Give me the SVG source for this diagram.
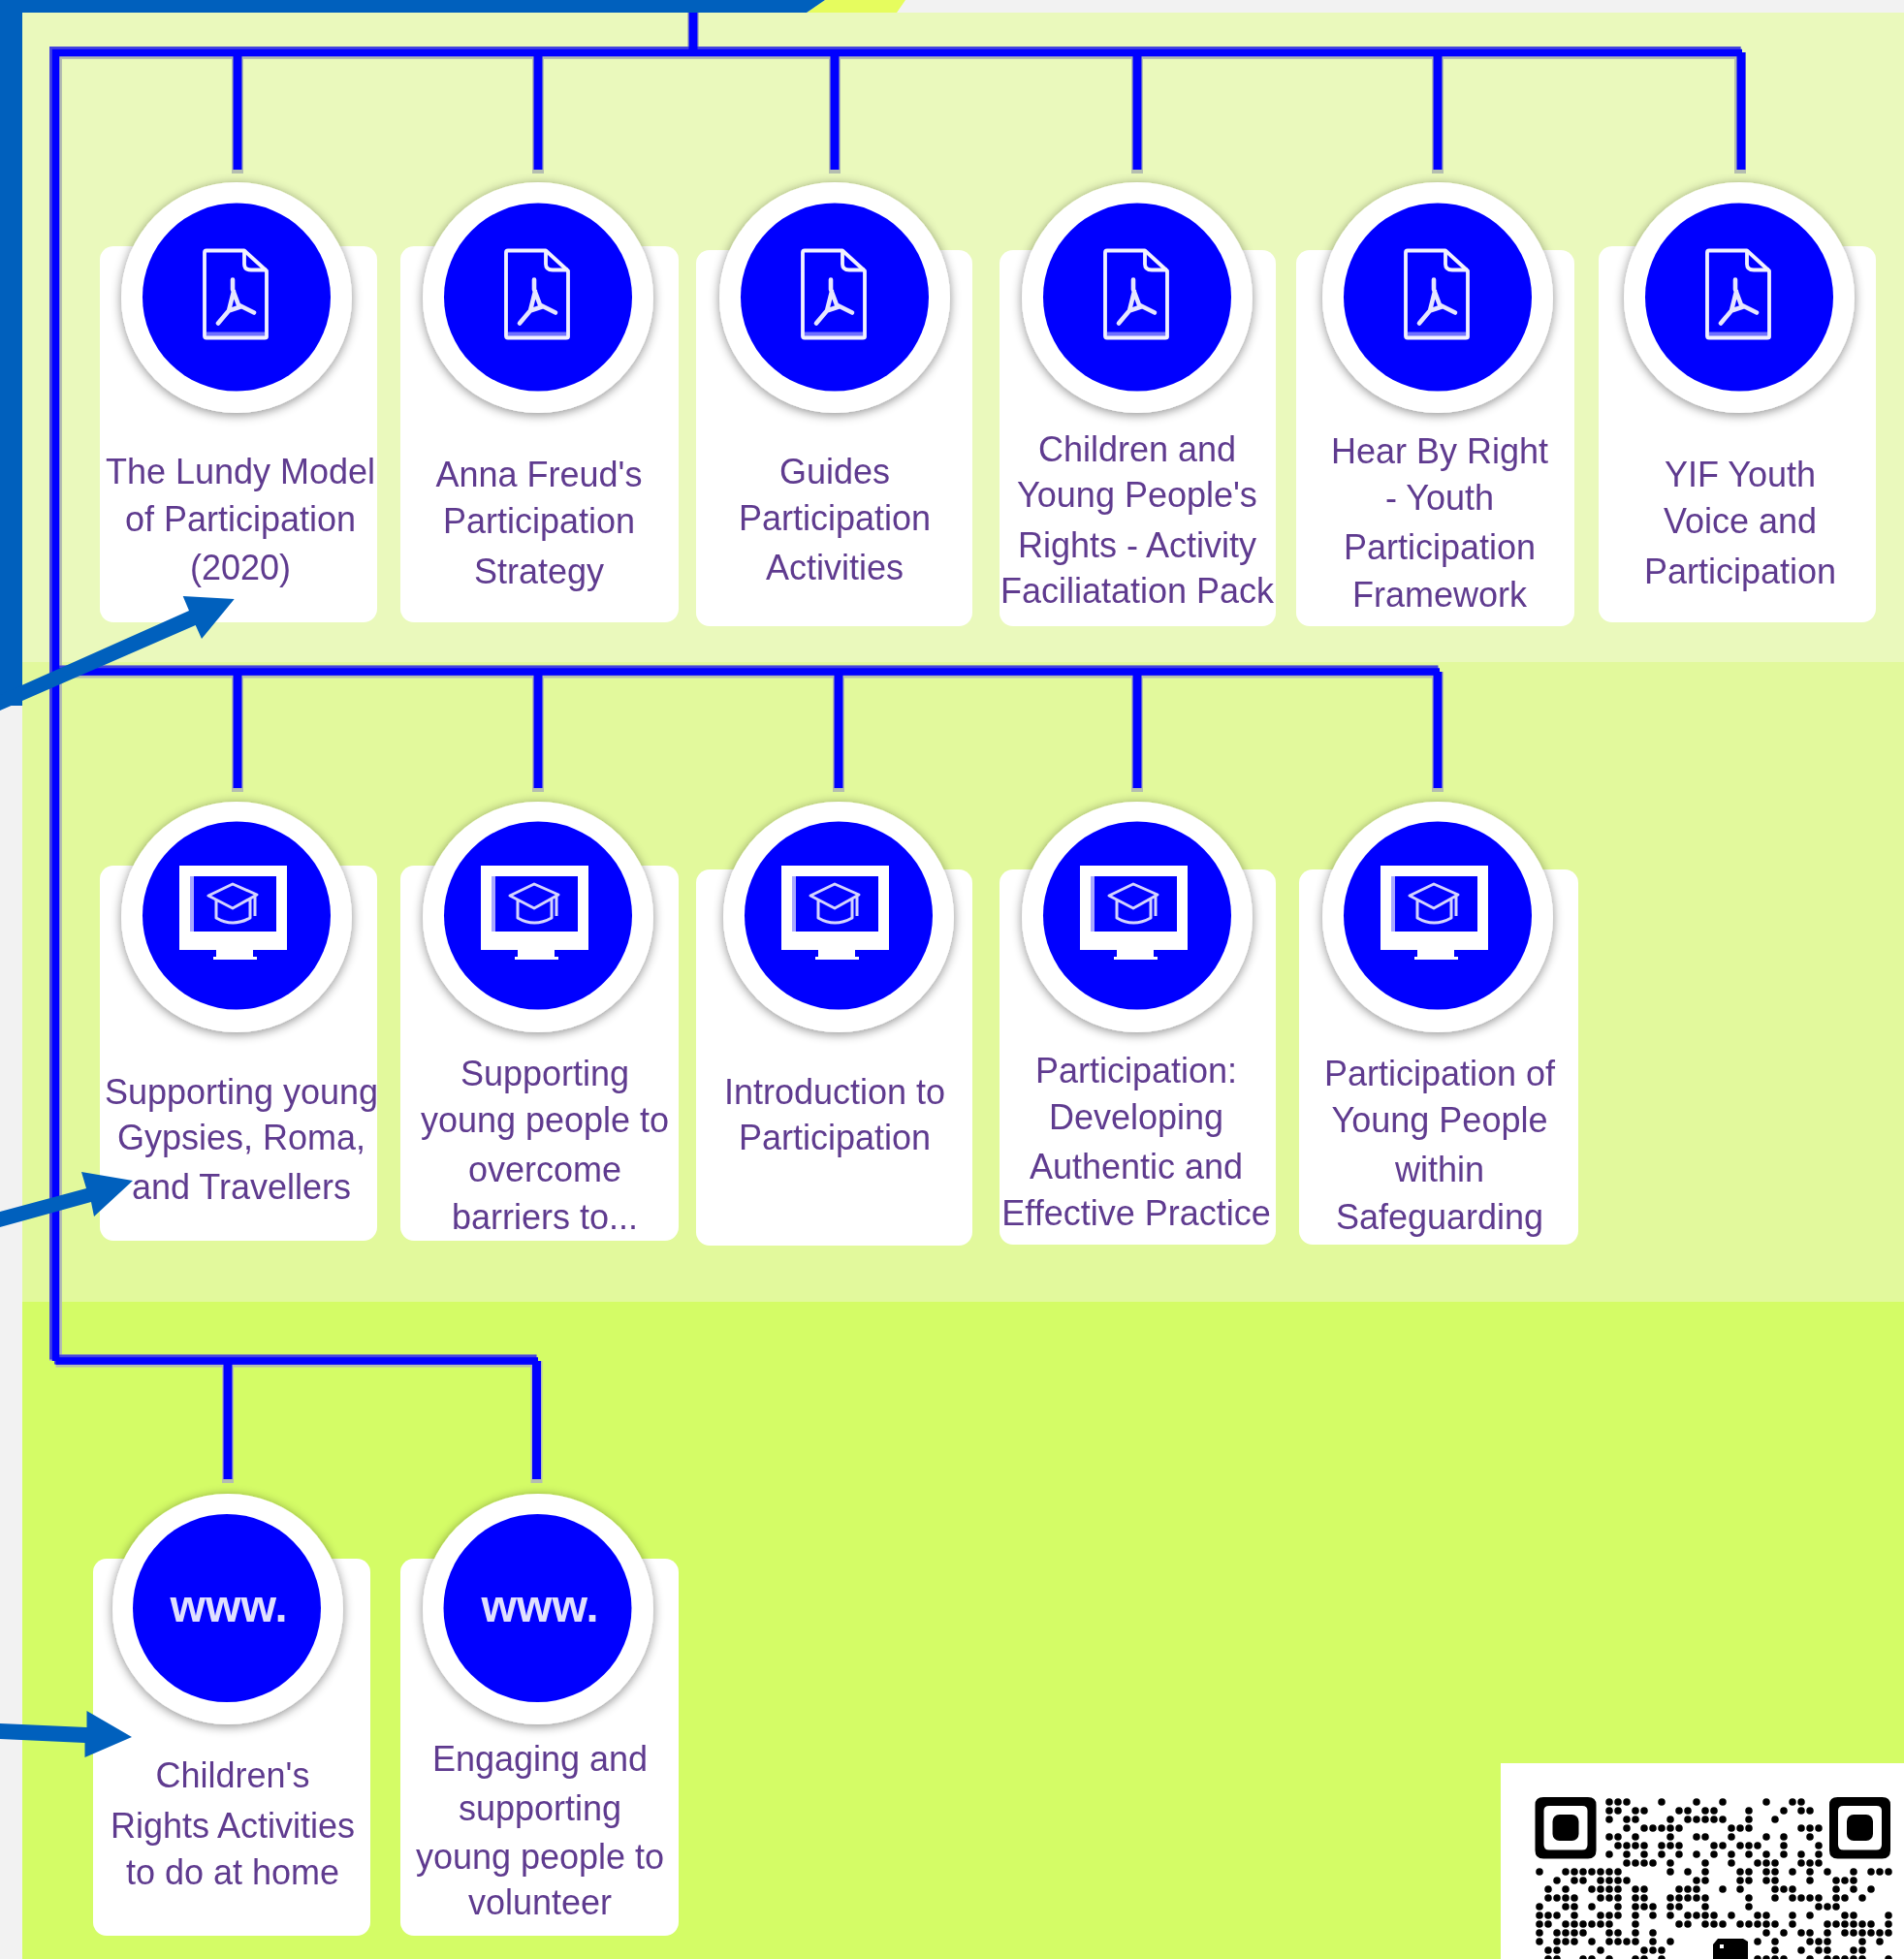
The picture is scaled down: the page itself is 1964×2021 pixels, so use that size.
<svg xmlns="http://www.w3.org/2000/svg" width="1964" height="2021" viewBox="0 0 1964 2021">
<style>
.card{fill:#fff}
.ring{fill:#fff;filter:url(#shadow)}
.disc{fill:#0000ff}
.lbl{font-family:"Liberation Sans",Arial,sans-serif;font-size:36px;fill:#5f3b8f;text-anchor:middle;filter:url(#soft)}
.www{font-family:"Liberation Sans",Arial,sans-serif;font-size:47px;font-weight:700;fill:#dfdfff;text-anchor:middle;filter:url(#soft)}
.edge{fill:none;stroke:#b4bdb0;stroke-width:13}
.edge2{fill:none;stroke:#4444de;stroke-width:10}
.core{fill:none;stroke:#0000ff;stroke-width:7.500}
.stemedge{fill:none;stroke:#b4bdb0;stroke-width:12}
.stem{fill:none;stroke:#0000ff;stroke-width:9}
.arrow{fill:#0060bd}
.ico{fill:none;stroke:#f2f2ff;stroke-width:3.800;stroke-linejoin:round}
.acro{fill:none;stroke:#e6e6ff;stroke-width:4.600;stroke-linejoin:round;stroke-linecap:round}
.cap{fill:none;stroke:#d4d4ff;stroke-width:3;stroke-linejoin:round}
</style>
<defs>
<filter id="shadow" x="-20%" y="-20%" width="140%" height="140%"><feDropShadow dx="0" dy="2" stdDeviation="5.500" flood-color="#000" flood-opacity=".45"/></filter>
<filter id="soft" x="-5%" y="-5%" width="110%" height="110%"><feGaussianBlur stdDeviation=".7"/></filter>
<g id="pdf">
<rect x="-31" y="36" width="60" height="5" fill="#7070ff"/>
<path class="ico" d="M-31 -48H8L31 -27V41Q31 42 29 42H-31Q-33 42 -33 40V-46Q-33 -48 -31 -48Z"/>
<path class="ico" d="M8 -48V-34Q8 -28 15 -28H31"/>
<path class="acro" d="M-4 -18V-8L2 8L18 16M-3 -6L-8 14L-19 27M-8 14L4 10"/>
</g>
<g id="mon">
<rect x="-48" y="-41" width="4" height="61" fill="#a8a8ff"/>
<rect x="-48" y="16" width="89" height="4" fill="#c4c4ff"/>
<path fill="#fff" fill-rule="evenodd" d="M-59 -52H52V35H17V42H21V45H-24V42H-21V35H-59ZM-48 -41V16H41V-41Z"/>
<path class="cap" d="M-29 -21L-4 -33L21 -22L-4 -8ZM-21 -17V2Q-4 12 14 2V-17M19 -22V0"/>
</g>
</defs>

<g id="background">
<rect x="0" y="0" width="1964" height="2021" fill="#f2f2f2"/>
<rect x="23" y="13" width="1941" height="670" fill="#eaf9bc"/>
<rect x="23" y="683" width="1941" height="660" fill="#e2f99c"/>
<rect x="23" y="1343" width="1941" height="678" fill="#d4fc66"/>
<polygon points="832,13 851,0 934,0 925,13" fill="#e6fc5e"/>
<rect x="0" y="0" width="832" height="13" fill="#0060bd"/>
<polygon points="832,13 851,0 832,0" fill="#0060bd"/>
<rect x="0" y="0" width="23" height="728" fill="#0060bd"/>
</g>

<g id="connectors">
<path class="stemedge" d="M715 13V54M245 54V179M555 54V179M861 54V179M1173 54V179M1483 54V179M1795 54V179M245 693V817M555 693V817M865 693V817M1173 693V817M1483 693V817M235 1404V1530M553.500 1404V1530"/>
<path class="edge" d="M57.500 1404V54.500H1796M57.500 693H1483M57.500 1404H553.500"/>
<path class="edge2" transform="translate(-1.500 -1.500)" d="M57.500 1404V54.500H1797M57.500 693H1485M57.500 1404H555"/>
<path class="core" d="M57.500 1404V54.500H1797M57.500 693H1485M57.500 1404H555"/>
<path class="stem" d="M715 13V54M245 54V175M555 54V175M861 54V175M1173 54V175M1483 54V175M1796 54V175M245 693V813M555 693V813M865 693V813M1173 693V813M1483 693V813M235 1404V1526M553.500 1404V1526"/>
</g>

<g id="n1"><rect class="card" x="103" y="254" width="286" height="388" rx="14"/><circle class="ring" cx="244" cy="307" r="119"/><circle class="disc" cx="244" cy="306.500" r="97"/><use href="#pdf" transform="translate(244 306.500)"/><text class="lbl"><tspan x="248" y="499">The Lundy Model</tspan><tspan x="248" y="548">of Participation</tspan><tspan x="248" y="598">(2020)</tspan></text></g>
<g id="n2"><rect class="card" x="413" y="254" width="287" height="388" rx="14"/><circle class="ring" cx="555" cy="307" r="119"/><circle class="disc" cx="555" cy="306.500" r="97"/><use href="#pdf" transform="translate(555 306.500)"/><text class="lbl"><tspan x="556" y="502">Anna Freud's</tspan><tspan x="556" y="550">Participation</tspan><tspan x="556" y="602">Strategy</tspan></text></g>
<g id="n3"><rect class="card" x="718" y="258" width="285" height="388" rx="14"/><circle class="ring" cx="861" cy="307" r="119"/><circle class="disc" cx="861" cy="306.500" r="97"/><use href="#pdf" transform="translate(861 306.500)"/><text class="lbl"><tspan x="861" y="499">Guides</tspan><tspan x="861" y="547">Participation</tspan><tspan x="861" y="598">Activities</tspan></text></g>
<g id="n4"><rect class="card" x="1031" y="258" width="285" height="388" rx="14"/><circle class="ring" cx="1173" cy="307" r="119"/><circle class="disc" cx="1173" cy="306.500" r="97"/><use href="#pdf" transform="translate(1173 306.500)"/><text class="lbl"><tspan x="1173" y="475.500">Children and</tspan><tspan x="1173" y="523">Young People's</tspan><tspan x="1173" y="575">Rights - Activity</tspan><tspan x="1173" y="622">Faciliatation Pack</tspan></text></g>
<g id="n5"><rect class="card" x="1337" y="258" width="287" height="388" rx="14"/><circle class="ring" cx="1483" cy="307" r="119"/><circle class="disc" cx="1483" cy="306.500" r="97"/><use href="#pdf" transform="translate(1483 306.500)"/><text class="lbl"><tspan x="1485" y="478">Hear By Right</tspan><tspan x="1485" y="526">- Youth</tspan><tspan x="1485" y="577">Participation</tspan><tspan x="1485" y="626">Framework</tspan></text></g>
<g id="n6"><rect class="card" x="1649" y="254" width="286" height="388" rx="14"/><circle class="ring" cx="1794" cy="307" r="119"/><circle class="disc" cx="1794" cy="306.500" r="97"/><use href="#pdf" transform="translate(1794 306.500)"/><text class="lbl"><tspan x="1795" y="502">YIF Youth</tspan><tspan x="1795" y="550">Voice and</tspan><tspan x="1795" y="602">Participation</tspan></text></g>

<g id="n7"><rect class="card" x="103" y="893" width="286" height="387" rx="14"/><circle class="ring" cx="244" cy="946" r="119"/><circle class="disc" cx="244" cy="944.500" r="97"/><use href="#mon" transform="translate(244 945)"/><text class="lbl"><tspan x="249" y="1139">Supporting young</tspan><tspan x="249" y="1186">Gypsies, Roma,</tspan><tspan x="249" y="1237">and Travellers</tspan></text></g>
<g id="n8"><rect class="card" x="413" y="893" width="287" height="387" rx="14"/><circle class="ring" cx="555" cy="946" r="119"/><circle class="disc" cx="555" cy="944.500" r="97"/><use href="#mon" transform="translate(555 945)"/><text class="lbl"><tspan x="562" y="1120">Supporting</tspan><tspan x="562" y="1168">young people to</tspan><tspan x="562" y="1219">overcome</tspan><tspan x="562" y="1268">barriers to...</tspan></text></g>
<g id="n9"><rect class="card" x="718" y="897" width="285" height="388" rx="14"/><circle class="ring" cx="865" cy="946" r="119"/><circle class="disc" cx="865" cy="944.500" r="97"/><use href="#mon" transform="translate(865 945)"/><text class="lbl"><tspan x="861" y="1139">Introduction to</tspan><tspan x="861" y="1186">Participation</tspan></text></g>
<g id="n10"><rect class="card" x="1031" y="897" width="285" height="387" rx="14"/><circle class="ring" cx="1173" cy="946" r="119"/><circle class="disc" cx="1173" cy="944.500" r="97"/><use href="#mon" transform="translate(1173 945)"/><text class="lbl"><tspan x="1172" y="1117">Participation:</tspan><tspan x="1172" y="1165">Developing</tspan><tspan x="1172" y="1216">Authentic and</tspan><tspan x="1172" y="1264">Effective Practice</tspan></text></g>
<g id="n11"><rect class="card" x="1340" y="897" width="288" height="387" rx="14"/><circle class="ring" cx="1483" cy="946" r="119"/><circle class="disc" cx="1483" cy="944.500" r="97"/><use href="#mon" transform="translate(1483 945)"/><text class="lbl"><tspan x="1485" y="1120">Participation of</tspan><tspan x="1485" y="1168">Young People</tspan><tspan x="1485" y="1219">within</tspan><tspan x="1485" y="1268">Safeguarding</tspan></text></g>

<g id="n12"><rect class="card" x="96" y="1608" width="286" height="389" rx="14"/><circle class="ring" cx="235" cy="1660" r="119"/><circle class="disc" cx="234" cy="1659" r="97"/><text class="www" x="236" y="1673">www.</text><text class="lbl"><tspan x="240" y="1844">Children's</tspan><tspan x="240" y="1896">Rights Activities</tspan><tspan x="240" y="1944">to do at home</tspan></text></g>
<g id="n13"><rect class="card" x="413" y="1608" width="287" height="389" rx="14"/><circle class="ring" cx="555" cy="1660" r="119"/><circle class="disc" cx="554.500" cy="1659" r="97"/><text class="www" x="557" y="1673">www.</text><text class="lbl"><tspan x="557" y="1827">Engaging and</tspan><tspan x="557" y="1878">supporting</tspan><tspan x="557" y="1928">young people to</tspan><tspan x="557" y="1975">volunteer</tspan></text></g>

<g id="arrows">
<polygon class="arrow" points="0,717 195,630 188.700,615 241.700,618 208,659 201.700,645 0,733"/>
<polygon class="arrow" points="0,1250 89,1226 84,1209 137,1218 97,1255 94,1240 0,1266"/>
<polygon class="arrow" points="0,1778 89.500,1782 89.500,1765 136,1792 87.500,1813 87.500,1798 0,1794"/>
</g>

<g id="qr">
<rect x="1548" y="1819" width="416" height="202" fill="#fff"/>
<g id="finders" fill="#000">
<path fill-rule="evenodd" d="M1592 1854H1638Q1646.500 1854 1646.500 1862V1909Q1646.500 1917.500 1638 1917.500H1592Q1583.500 1917.500 1583.500 1909V1862Q1583.500 1854 1592 1854ZM1598 1863Q1592.500 1863 1592.500 1868V1903Q1592.500 1908.500 1598 1908.500H1632Q1637.500 1908.500 1637.500 1903V1868Q1637.500 1863 1632 1863Z"/>
<rect x="1601.500" y="1872" width="27" height="27" rx="7"/>
<path fill-rule="evenodd" d="M1895.500 1854H1941.500Q1950 1854 1950 1862V1909Q1950 1917.500 1941.500 1917.500H1895.500Q1887 1917.500 1887 1909V1862Q1887 1854 1895.500 1854ZM1901.500 1863Q1896 1863 1896 1868V1903Q1896 1908.500 1901.500 1908.500H1935.500Q1941 1908.500 1941 1903V1868Q1941 1863 1935.500 1863Z"/>
<rect x="1905" y="1872" width="27" height="27" rx="7"/>
</g>
<path id="logo" fill="#000" d="M1767 2006L1772 2000H1798L1803 2003V2021H1767Z"/>
<rect x="1774" y="2006" width="4" height="4" fill="#fff"/>
<path id="dots" transform="translate(1588 1859) scale(9)" fill="none" stroke="#000" stroke-width=".84" stroke-linecap="round" d="M8 0h0M9 0h0M10 0h0M14 0h0M18 0h0M21 0h0M26 0h0M29 0h0M30 0h0
M8 1h0M9 1h0M11 1h0M12 1h0M16 1h0M17 1h0M19 1h0M20 1h0M24 1h0M28 1h0M30 1h0M31 1h0
M8 2h0M10 2h0M11 2h0M15 2h0M17 2h0M18 2h0M19 2h0M20 2h0M21 2h0M24 2h0M27 2h0
M10 3h0M12 3h0M13 3h0M14 3h0M15 3h0M16 3h0M22 3h0M23 3h0M24 3h0M30 3h0M31 3h0M32 3h0
M8 4h0M9 4h0M11 4h0M15 4h0M18 4h0M19 4h0M22 4h0M26 4h0M28 4h0M31 4h0
M9 5h0M10 5h0M11 5h0M12 5h0M14 5h0M15 5h0M16 5h0M20 5h0M21 5h0M23 5h0M24 5h0M25 5h0M28 5h0M32 5h0
M8 6h0M10 6h0M12 6h0M14 6h0M16 6h0M18 6h0M20 6h0M22 6h0M24 6h0M26 6h0M28 6h0M30 6h0M32 6h0
M10 7h0M11 7h0M12 7h0M13 7h0M15 7h0M19 7h0M22 7h0M25 7h0M26 7h0M27 7h0M30 7h0M31 7h0M32 7h0
M0 8h0M3 8h0M4 8h0M5 8h0M6 8h0M7 8h0M8 8h0M9 8h0M15 8h0M17 8h0M19 8h0M23 8h0M24 8h0M26 8h0M27 8h0M29 8h0M31 8h0M33 8h0M36 8h0M38 8h0M39 8h0M40 8h0
M2 9h0M4 9h0M5 9h0M7 9h0M8 9h0M9 9h0M10 9h0M18 9h0M19 9h0M23 9h0M24 9h0M26 9h0M27 9h0M31 9h0M34 9h0M35 9h0M36 9h0
M1 10h0M3 10h0M6 10h0M7 10h0M8 10h0M9 10h0M11 10h0M12 10h0M16 10h0M17 10h0M18 10h0M21 10h0M23 10h0M27 10h0M28 10h0M29 10h0M34 10h0M36 10h0M38 10h0
M1 11h0M2 11h0M3 11h0M4 11h0M7 11h0M8 11h0M9 11h0M11 11h0M12 11h0M15 11h0M16 11h0M17 11h0M18 11h0M19 11h0M24 11h0M27 11h0M29 11h0M30 11h0M31 11h0M32 11h0M34 11h0M35 11h0M37 11h0
M0 12h0M3 12h0M4 12h0M6 12h0M9 12h0M11 12h0M12 12h0M13 12h0M15 12h0M16 12h0M19 12h0M24 12h0M32 12h0M33 12h0M34 12h0
M0 13h0M1 13h0M2 13h0M4 13h0M7 13h0M8 13h0M9 13h0M11 13h0M13 13h0M15 13h0M17 13h0M18 13h0M19 13h0M20 13h0M22 13h0M25 13h0M26 13h0M29 13h0M31 13h0M35 13h0M36 13h0M40 13h0
M0 14h0M1 14h0M3 14h0M4 14h0M5 14h0M6 14h0M7 14h0M8 14h0M11 14h0M16 14h0M17 14h0M19 14h0M20 14h0M21 14h0M23 14h0M24 14h0M25 14h0M26 14h0M27 14h0M29 14h0M33 14h0M34 14h0M35 14h0M36 14h0M37 14h0M38 14h0M40 14h0
M0 15h0M2 15h0M3 15h0M4 15h0M5 15h0M8 15h0M9 15h0M11 15h0M13 15h0M26 15h0M28 15h0M30 15h0M31 15h0M33 15h0M35 15h0M36 15h0M37 15h0M38 15h0M39 15h0M40 15h0
M0 16h0M2 16h0M3 16h0M4 16h0M6 16h0M8 16h0M9 16h0M10 16h0M11 16h0M13 16h0M15 16h0M25 16h0M27 16h0M31 16h0M32 16h0M33 16h0M37 16h0M39 16h0
M1 17h0M2 17h0M7 17h0M12 17h0M13 17h0M14 17h0M27 17h0M30 17h0M32 17h0M33 17h0M36 17h0M37 17h0
M1 18h0M2 18h0M5 18h0M6 18h0M8 18h0M11 18h0M12 18h0M14 18h0M25 18h0M26 18h0M27 18h0M28 18h0M31 18h0M33 18h0M34 18h0M35 18h0M36 18h0M37 18h0M40 18h0"/>
</g>
</svg>
